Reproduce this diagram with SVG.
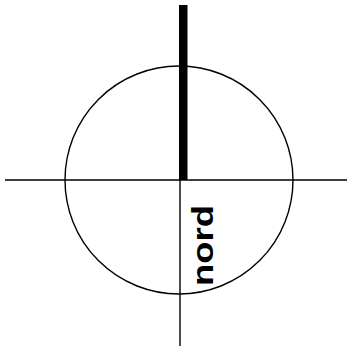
<svg xmlns="http://www.w3.org/2000/svg" width="349" height="351" viewBox="0 0 349 351">
<style>
.ln{stroke:#000;stroke-width:1.4;fill:none}
.lbl{font-family:"Liberation Sans",Arial,sans-serif;font-weight:bold;font-size:29px;fill:#000}
</style>
<rect width="349" height="351" fill="#fff"/>
<g id="circle"><circle class="ln" cx="179" cy="180" r="114"/></g>
<g id="axes">
<line class="ln" x1="5" y1="180" x2="347" y2="180"/>
<line class="ln" x1="180" y1="180" x2="180" y2="346"/>
</g>
<g id="bar"><rect x="179" y="5" width="8.5" height="175" fill="#000"/></g>
<g id="label"><text class="lbl" transform="translate(213,286) rotate(-90)" textLength="81" lengthAdjust="spacingAndGlyphs">nord</text></g>
</svg>
